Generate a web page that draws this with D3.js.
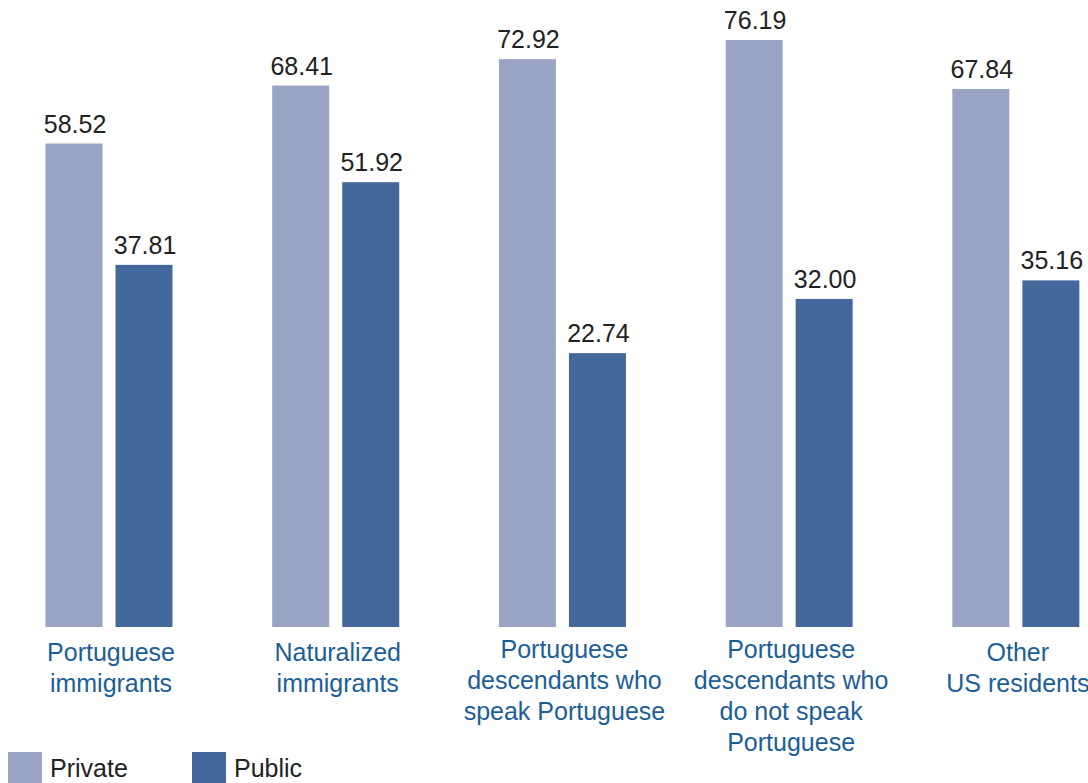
<!DOCTYPE html>
<html>
<head>
<meta charset="utf-8">
<script src="https://cdn.jsdelivr.net/npm/d3@7/dist/d3.min.js"></script>
<style>
  html, body { margin: 0; padding: 0; background: #fff; }
  svg { display: block; }
  text { font-family: "Liberation Sans", Arial, Helvetica, sans-serif; }
</style>
</head>
<body>
<svg id="chart" width="1088" height="783"></svg>
<script>
// Share of respondents by school type, per population group
const categories = [
  ["Portuguese", "immigrants"],
  ["Naturalized", "immigrants"],
  ["Portuguese", "descendants who", "speak Portuguese"],
  ["Portuguese", "descendants who", "do not speak", "Portuguese"],
  ["Other", "US residents"]
];
const series = ["Private", "Public"];
const privateValues = [58.52, 68.41, 72.92, 76.19, 67.84];
const publicValues  = [37.81, 51.92, 22.74, 32.00, 35.16];
const seriesColors  = ["#99a3c4", "#44679c"];

const W = 1088, H = 783;
const svg = d3.select("#chart");

const catKeys = categories.map(c => c.join(" "));
const rows = catKeys.map((k, i) => ({
  key: k,
  lines: categories[i],
  values: [privateValues[i], publicValues[i]]
}));

// Horizontal layout: one band per group, two bars inside each band
const x0 = d3.scaleBand().domain(catKeys).range([-4.35, 1129.2]).padding(0);
const groupWidth = 127;
const x1 = d3.scaleBand().domain(series).range([0, groupWidth]).paddingInner(0.186);

// Vertical scale: bars rise from the bottom edge of the plot area
const y = d3.scaleLinear().domain([-24, 76.19]).range([627, 40]);
const yBase = y.range()[0];

const color = d3.scaleOrdinal().domain(series).range(seriesColors);

const groups = svg.append("g").selectAll("g.group")
  .data(rows)
  .join("g")
  .attr("class", "group")
  .attr("transform", d => `translate(${x0(d.key) + x0.bandwidth() / 2 - groupWidth / 2},0)`);

const bars = groups.selectAll("g.bar")
  .data(d => series.map((s, j) => ({ series: s, value: d.values[j] })))
  .join("g")
  .attr("class", "bar");

bars.append("rect")
  .attr("x", d => x1(d.series))
  .attr("width", x1.bandwidth())
  .attr("y", d => y(d.value))
  .attr("height", d => yBase - y(d.value))
  .attr("fill", d => color(d.series));

bars.append("text")
  .attr("x", d => x1(d.series) + x1.bandwidth() / 2 + 1)
  .attr("y", d => y(d.value) - 11)
  .attr("text-anchor", "middle")
  .attr("font-size", 25)
  .attr("fill", "#222")
  .text(d => d3.format(".2f")(d.value));

// Category labels beneath each group
groups.append("text")
  .attr("text-anchor", "middle")
  .attr("font-size", 25)
  .attr("fill", "#1d5e98")
  .attr("x", groupWidth / 2 + 2)
  .attr("y", d => d.lines.length > 2 ? 658 : 661)
  .selectAll("tspan")
  .data(d => d.lines)
  .join("tspan")
  .attr("x", groupWidth / 2 + 2)
  .attr("dy", (d, i) => i === 0 ? 0 : 31)
  .text(d => d);

// Legend
const legend = svg.append("g").attr("transform", "translate(8,752)");
const legendItems = legend.selectAll("g")
  .data(series)
  .join("g")
  .attr("transform", (d, i) => `translate(${i * 184},0)`);

legendItems.append("rect")
  .attr("width", 34)
  .attr("height", 34)
  .attr("fill", d => color(d));

legendItems.append("text")
  .attr("x", 42)
  .attr("y", 25)
  .attr("font-size", 25)
  .attr("fill", "#222")
  .text(d => d);
</script>
</body>
</html>
